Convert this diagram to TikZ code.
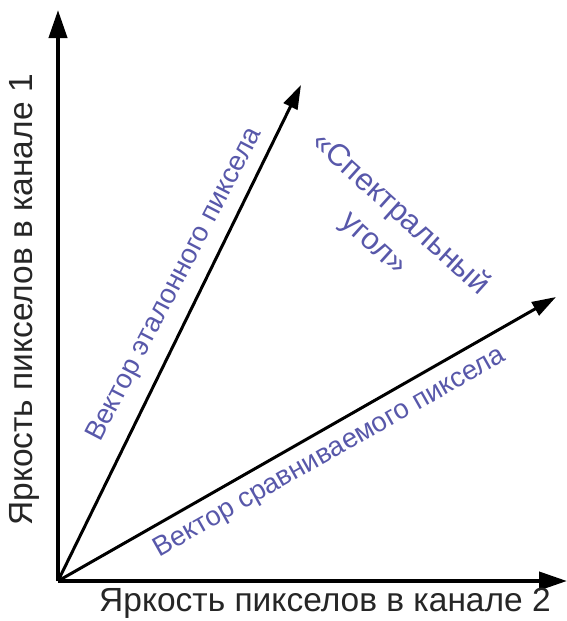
\documentclass[tikz,border=0pt]{standalone}
\usepackage{fontspec}
\setmainfont{Liberation Sans}
\usetikzlibrary{arrows.meta}
\definecolor{lblblue}{RGB}{88,88,170}
\begin{document}
\begin{tikzpicture}[x=1pt,y=-1pt,
  axis/.style={line width=4pt,-{Triangle[length=28pt,width=18pt]}},
  vec/.style={line width=3pt,-{Triangle[length=24pt,width=15pt]}},
  axlabel/.style={font=\fontsize{33.5}{36}\selectfont,text=black!85,inner sep=0pt},
  veclabel/.style={font=\fontsize{27.5}{30}\selectfont,text=lblblue,inner sep=0pt},
  anglabel/.style={font=\fontsize{31}{40}\selectfont,text=lblblue,inner sep=0pt,align=center}]
\useasboundingbox (0,0) rectangle (567,621);
\coordinate (O) at (58,581);
\coordinate (Ytip) at (58,10);
\coordinate (Xtip) at (567,581);
\coordinate (R) at (301,85);
\coordinate (C) at (556,297);
\draw[axis] (O) -- (Ytip);
\draw[axis] (O) -- (Xtip);
\draw[vec] (O) -- (R);
\draw[vec] (O) -- (C);
\node[axlabel] (xl) at (325,603) {Яркость пикселов в канале 2};
\node[axlabel,rotate=90] (yl) at (24,300) {Яркость пикселов в канале 1};
\node[veclabel,rotate=62.5] (rl) at (175,285) {Вектор эталонного пиксела};
\node[veclabel,rotate=29.5] (cl) at (330,453) {Вектор сравниваемого пиксела};
\node[anglabel,rotate=-42] (al) at (387,229) {«Спектральный\\угол»};
\end{tikzpicture}
\end{document}
